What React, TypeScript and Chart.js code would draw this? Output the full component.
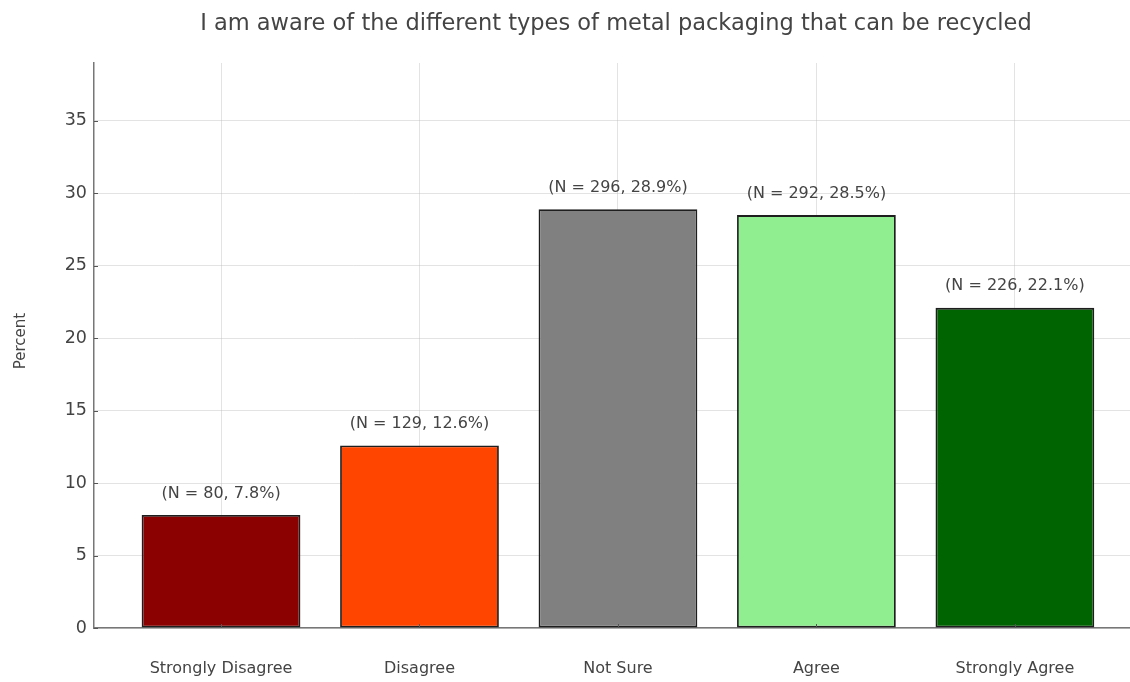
import React, { useEffect, useRef } from "react";
import { Chart, registerables } from "chart.js";

Chart.register(...registerables);

// Survey responses
const categories = ["Strongly Disagree", "Disagree", "Not Sure", "Agree", "Strongly Agree"];
const counts = [80, 129, 296, 292, 226];
const percents = [7.8, 12.6, 28.9, 28.5, 22.1];
const barColors = ["#8b0000", "#ff4500", "#808080", "#90ee90", "#006400"];
const yTickValues = [0, 5, 10, 15, 20, 25, 30, 35];

const TITLE = "I am aware of the different types of metal packaging that can be recycled";
const Y_LABEL = "Percent";
const FONT = "'DejaVu Sans', sans-serif";
const TEXT_COLOR = "#444";
const GRID_COLOR = "rgba(185,185,185,0.4)";
const SPINE_COLOR = "#777";

// Title, axis label, per-bar value labels and inward tick marks
const decorations = {
  id: "decorations",
  afterDraw(chart: any) {
    const { ctx, chartArea, scales } = chart;
    const xs = scales.x;
    const ys = scales.y;
    ctx.save();

    // inward tick marks
    ctx.strokeStyle = "#555";
    ctx.lineWidth = 1;
    ctx.beginPath();
    yTickValues.forEach((v) => {
      const py = Math.round(ys.getPixelForValue(v)) + 0.5;
      ctx.moveTo(chartArea.left, py);
      ctx.lineTo(chartArea.left + 4, py);
    });
    categories.forEach((_, i) => {
      const px = Math.round(xs.getPixelForValue(i)) + 0.5;
      ctx.moveTo(px, chartArea.bottom);
      ctx.lineTo(px, chartArea.bottom - 4);
    });
    ctx.stroke();

    // value labels
    ctx.fillStyle = TEXT_COLOR;
    ctx.font = `16px ${FONT}`;
    ctx.textAlign = "center";
    ctx.textBaseline = "alphabetic";
    percents.forEach((p, i) => {
      const px = xs.getPixelForValue(i);
      const py = ys.getPixelForValue(p + 1) - 3;
      ctx.fillText(`(N = ${counts[i]}, ${p.toFixed(1)}%)`, px, py);
    });

    // title
    ctx.font = `22.5px ${FONT}`;
    ctx.fillText(TITLE, xs.getPixelForValue(2) - 2, 30);

    // y axis label
    ctx.font = `15px ${FONT}`;
    ctx.translate(21, 341);
    ctx.rotate(-Math.PI / 2);
    ctx.textBaseline = "middle";
    ctx.fillText(Y_LABEL, 0, 0);

    ctx.restore();
  },
};

export default function App() {
  const canvasRef = useRef<HTMLCanvasElement | null>(null);

  useEffect(() => {
    const canvas = canvasRef.current;
    if (!canvas) return;
    Chart.defaults.font.family = FONT;

    const chart = new Chart(canvas, {
      type: "bar",
      data: {
        datasets: [
          {
            data: percents.map((p, i) => ({ x: i, y: p })),
            backgroundColor: barColors,
            borderColor: "#1e1e1e",
            borderWidth: 1.8,
            borderSkipped: false,
            barPercentage: 0.8,
            categoryPercentage: 1,
          },
        ],
      },
      options: {
        responsive: false,
        animation: false,
        devicePixelRatio: 1,
        layout: { padding: { top: 63, left: 0, right: 0, bottom: 0 } },
        plugins: {
          legend: { display: false },
          title: { display: false },
          tooltip: { enabled: false },
        },
        scales: {
          x: {
            type: "linear",
            min: -0.64,
            max: 4.58,
            offset: false,
            z: 1,
            afterBuildTicks: (s: any) => {
              s.ticks = categories.map((_, i) => ({ value: i }));
            },
            afterFit: (s: any) => {
              s.height = 54;
            },
            grid: { color: GRID_COLOR, lineWidth: 1, drawTicks: false, offset: false },
            border: { color: SPINE_COLOR, width: 1.5 },
            ticks: {
              color: TEXT_COLOR,
              font: { size: 16 },
              padding: 31,
              maxRotation: 0,
              autoSkip: false,
              callback: (v: any) => categories[v as number] ?? "",
            },
          },
          y: {
            min: 0,
            max: 39,
            z: 1,
            afterBuildTicks: (s: any) => {
              s.ticks = yTickValues.map((v) => ({ value: v }));
            },
            afterFit: (s: any) => {
              s.width = 94;
            },
            grid: { color: GRID_COLOR, lineWidth: 1, drawTicks: false },
            border: { color: SPINE_COLOR, width: 1.5 },
            ticks: {
              color: TEXT_COLOR,
              font: { size: 17.5 },
              padding: 7,
            },
          },
        },
      },
      plugins: [decorations],
    });

    return () => chart.destroy();
  }, []);

  return (
    <div style={{ position: "absolute", left: 0, top: 0, width: 1130, height: 682, background: "#fff" }}>
      <canvas ref={canvasRef} width={1130} height={682} style={{ width: 1130, height: 682, display: "block" }} />
    </div>
  );
}
